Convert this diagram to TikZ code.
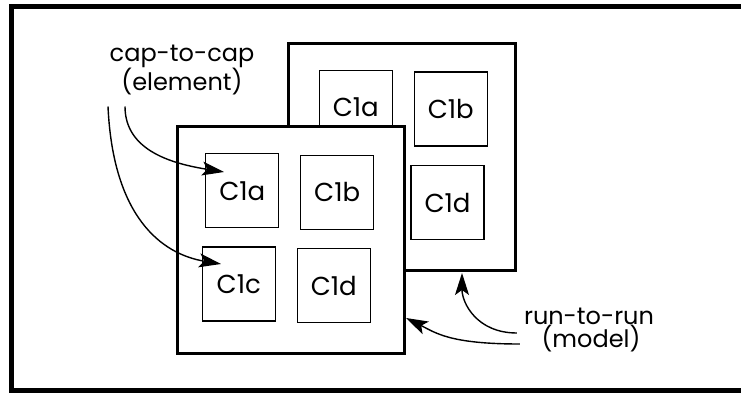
\documentclass[tikz,border=0pt]{standalone}
\usepackage{fontspec}
\setmainfont{Poppins}
\usetikzlibrary{positioning, arrows.meta}
\tikzstyle{modelbox} = [rectangle, draw=black, line width=2.6pt, fill=white, minimum width=227pt, minimum height=227pt, inner sep=0pt]
\tikzstyle{capbox} = [rectangle, draw=black, line width=1.3pt, fill=white, minimum width=73pt, minimum height=74pt, inner sep=0pt, font=\fontsize{26}{26}\selectfont]
\tikzstyle{callout} = [align=center, inner sep=0pt, font=\fontsize{24}{22}\selectfont]
\tikzstyle{arrow} = [line width=1.4pt, -{Stealth[length=22pt, width=14pt, inset=5pt]}]

\begin{document}
\begin{tikzpicture}[x=1pt, y=-1pt]
        \useasboundingbox (0,0) rectangle (741,393);
        \draw [line width=4.6pt] (11.5,6.5) rectangle (760,390.5);

        % back model
        \node (back) [modelbox] at (401.8,157) {};
        \node (backa) [capbox] at (355.8,107.7) {C1a};
        \node (backb) [capbox] at (450.8,109) {C1b};
        \node (backd) [capbox] at (447.5,202.5) {C1d};

        % front model
        \node (front) [modelbox] at (290.8,239.8) {};
        \node (fronta) [capbox] at (242.3,190.8) {C1a};
        \node (frontb) [capbox] at (337.2,192.2) {C1b};
        \node (frontc) [capbox] at (238.8,284) {C1c};
        \node (frontd) [capbox] at (333.8,285.7) {C1d};

        % labels
        \node (element) [callout] at (182,70) {cap-to-cap\\(element)};
        \node (model) [callout] at (589,330) {run-to-run\\\,(model)};

        \coordinate (tipa) at (224,172);
        \coordinate (tipc) at (221,264);
        \coordinate (tipback) at (462,273);
        \coordinate (tipfront) at (406,318);

        \draw [arrow] ([xshift=-57pt,yshift=-11pt]element.south) .. controls +(0,45) and +(-50,-8) .. (tipa);
        \draw [arrow] ([xshift=-74pt,yshift=-11pt]element.south) .. controls +(5,110) and +(-60,-10) .. (tipc);
        \draw [arrow] ([xshift=-7pt,yshift=-3pt]model.west) .. controls +(-40,0) and +(0,30) .. (tipback);
        \draw [arrow] ([xshift=-4pt,yshift=-14pt]model.west) .. controls +(-70,0) and +(30,15) .. (tipfront);
\end{tikzpicture}
\end{document}
